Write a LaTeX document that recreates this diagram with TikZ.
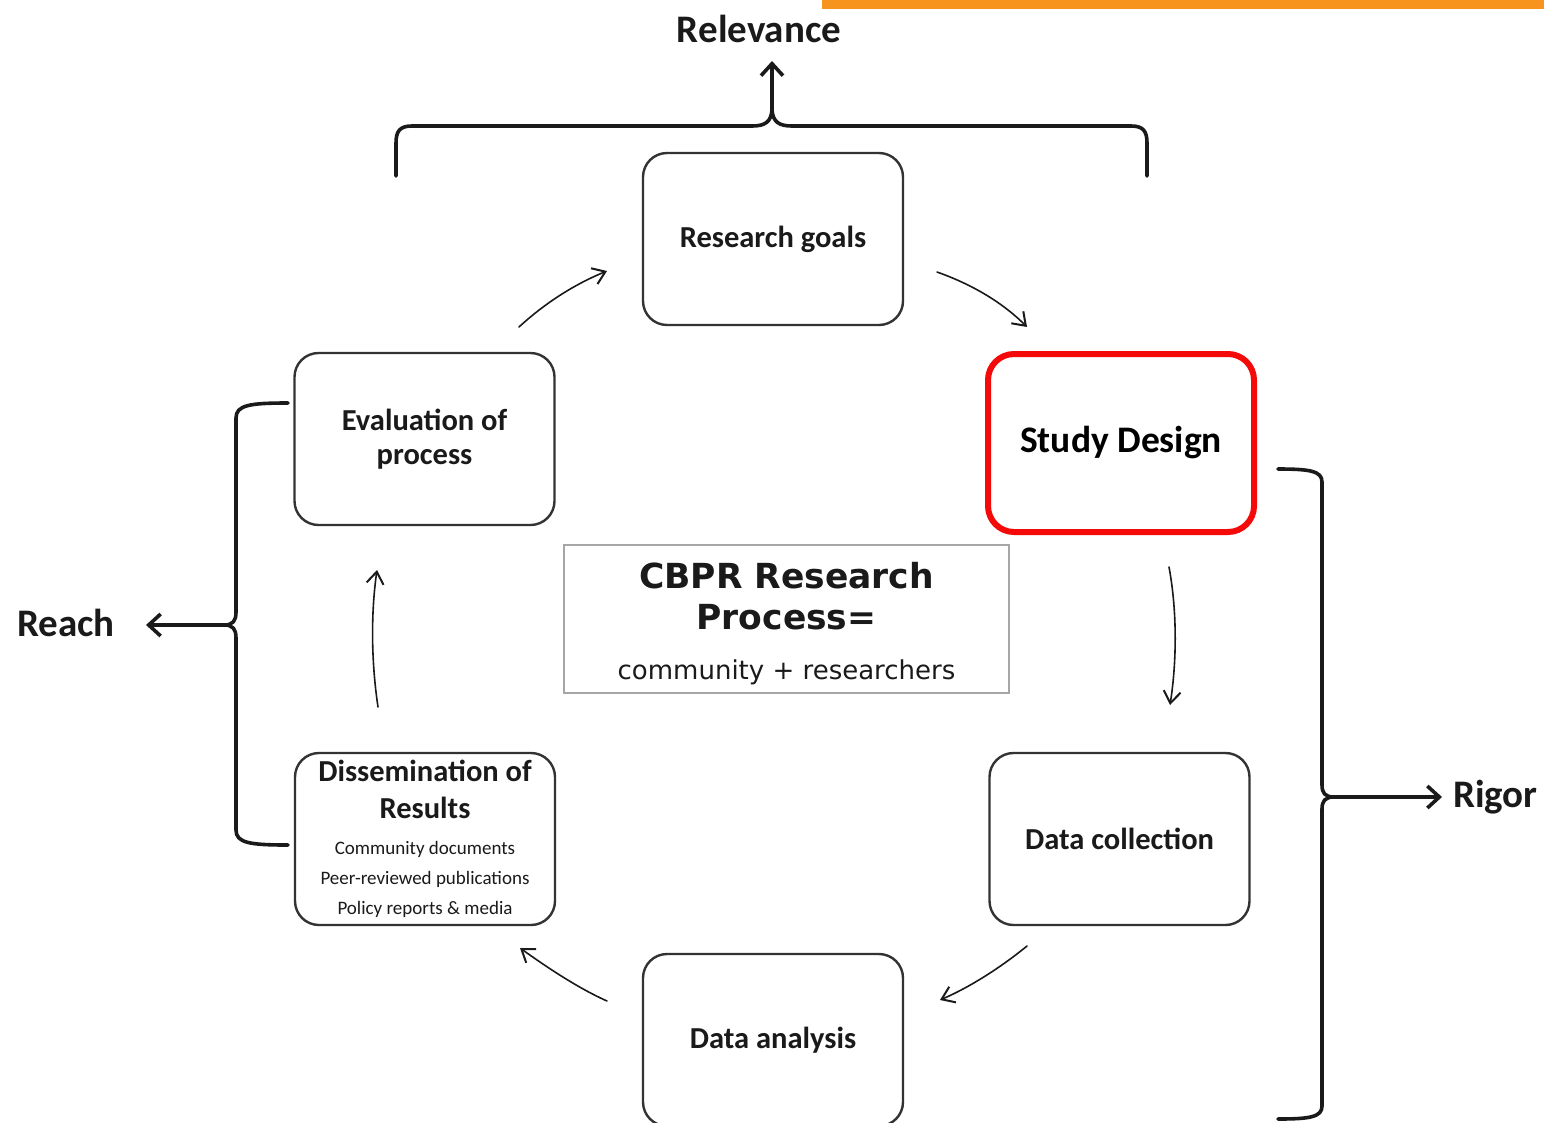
\documentclass[tikz,border=0pt]{standalone}
\usepackage{fontspec}
\setmainfont{Carlito}
\newfontfamily\verdfont{DejaVu Sans}
\usetikzlibrary{arrows.meta}
\definecolor{ink}{HTML}{1A1A1A}
\definecolor{boxline}{HTML}{333333}
\definecolor{alertred}{HTML}{F50A0A}
\definecolor{barorange}{HTML}{F7941D}
\newcommand\listfont{\mdseries\fontsize{19}{30}\selectfont}
\newcommand\cbprsub{\verdfont\mdseries\fontsize{26}{30}\selectfont}
\tikzset{
  stagebox/.style={draw=boxline, line width=2.4pt, rounded corners=24pt,
    align=center, inner sep=0pt, text=ink,
    minimum width=260pt, minimum height=172pt,
    font=\bfseries\fontsize{30.5}{34}\selectfont},
  flow/.style={draw=ink, line width=1.6pt, line cap=round,
    -{Straight Barb[length=12pt,width=17pt,line width=2pt]}},
  bracket/.style={draw=ink, line width=3.6pt, line cap=round, line join=round},
  bracearrow/.style={draw=ink, line width=3.6pt,
    -{Straight Barb[length=12pt,width=22pt,line width=3.6pt]}},
  outcome/.style={text=ink, font=\bfseries\fontsize{39}{42}\selectfont, inner sep=0pt}
}
\begin{document}
\begin{tikzpicture}[x=1pt,y=-1pt]
\useasboundingbox (0,0) rectangle (1544,1122);
\fill[white] (0,0) rectangle (1544,1122);
% orange bar along the top edge
\fill[barorange] (822,0) rectangle (1544,9);

% the six stages of the cycle
\node[stagebox] (goals) at (773,239) {Research goals};
\node[stagebox, draw=alertred, line width=6pt, rounded corners=26pt,
      minimum width=266pt, minimum height=178pt, text=black,
      font=\bfseries\fontsize{37.5}{40}\selectfont] (design) at (1121,443) {Study Design};
\node[stagebox] (collect) at (1119.5,839) {Data collection};
\node[stagebox] (analysis) at (773,1040) {Data analysis};
\node[stagebox, font=\bfseries\fontsize{30.5}{37}\selectfont] (diss) at (425,839)
  {Dissemination of\\Results\\[-1pt]
   \listfont Community documents\\[-7pt]\listfont Peer-reviewed publications\\[-7pt]\listfont Policy reports \& media};
\node[stagebox] (eval) at (424.5,439) {Evaluation of\\process};

% centre box and its caption
\node[draw=gray!70, line width=1.6pt, minimum width=445pt, minimum height=148pt,
      inner sep=0pt] (cbpr) at (786.5,619) {};
\node[inner sep=0pt, align=center, text=ink,
      font=\verdfont\bfseries\fontsize{34.5}{41}\selectfont] (cbprtext) at ([yshift=-5pt]cbpr.center)
  {CBPR Research\\Process=\\[9pt]\cbprsub community + researchers};

% arrow ends between the stages
\coordinate (e2g-s) at (519,327);  \coordinate (e2g-e) at (607,271);
\coordinate (g2d-s) at (937,272);  \coordinate (g2d-e) at (1027,327);
\coordinate (d2c-s) at (1169,567); \coordinate (d2c-e) at (1170,705);
\coordinate (c2a-s) at (1027,946); \coordinate (c2a-e) at (940,1000);
\coordinate (a2r-s) at (607,1001); \coordinate (a2r-e) at (520,948);
\coordinate (r2e-s) at (378,707);  \coordinate (r2e-e) at (377,570);

\draw[flow] (e2g-s) .. controls (545,303) and (575,284) .. (e2g-e);
\draw[flow] (g2d-s) .. controls (968,283) and (1000,300) .. (g2d-e);
\draw[flow] (d2c-s) .. controls (1177,610) and (1177,660) .. (d2c-e);
\draw[flow] (c2a-s) .. controls (1000,968) and (970,987) .. (c2a-e);
\draw[flow] (a2r-s) .. controls (578,988) and (548,968) .. (a2r-e);
\draw[flow] (r2e-s) .. controls (371,660) and (371,612) .. (r2e-e);

% Relevance bracket over the top row
\coordinate (relcusp) at (772,110);
\draw[bracket] (396,176) -- (396,143) .. controls (396,131) and (400,126) .. (412,126)
  -- (752,126) .. controls (765,126) and (771,122) .. (relcusp)
  .. controls (773,122) and (779,126) .. (792,126) -- (1131,126)
  .. controls (1143,126) and (1147,131) .. (1147,143) -- (1147,176);
\node[outcome] (relevance) at (759,29) {Relevance};
\draw[bracearrow] (relcusp) -- (772,61);

% Reach bracket on the left
\coordinate (reachcusp) at (224,625);
\draw[bracket] (288,403) .. controls (250,403) and (236,405) .. (236,418) -- (236,612)
  .. controls (236,621) and (233,625) .. (reachcusp)
  .. controls (233,625) and (236,629) .. (236,638) -- (236,830)
  .. controls (236,843) and (250,845) .. (288,845);
\node[outcome, anchor=west] (reach) at (17,623) {Reach};
\draw[bracearrow] (reachcusp) -- (146,625);

% Rigor bracket on the right
\coordinate (rigorcusp) at (1334,797);
\draw[bracket] (1278,469) .. controls (1310,469) and (1322,471) .. (1322,482) -- (1322,785)
  .. controls (1322,793) and (1325,797) .. (rigorcusp)
  .. controls (1325,797) and (1322,801) .. (1322,809) -- (1322,1106)
  .. controls (1322,1117) and (1310,1119) .. (1278,1119);
\node[outcome, anchor=west] (rigor) at (1453,797) {Rigor};
\draw[bracearrow] (rigorcusp) -- (1442,797);
\end{tikzpicture}
\end{document}
